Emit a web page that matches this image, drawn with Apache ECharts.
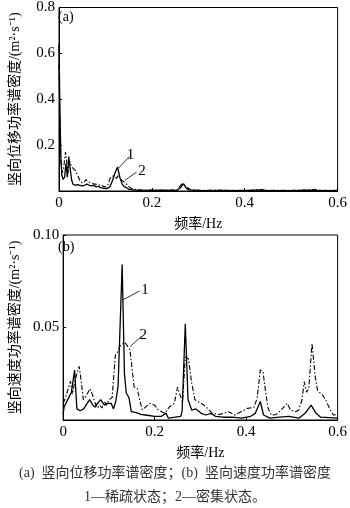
<!DOCTYPE html>
<html>
<head>
<meta charset="utf-8">
<script src="https://cdn.jsdelivr.net/npm/echarts@6/dist/echarts.min.js"></script>
<style>
  html, body { margin: 0; padding: 0; background: #fff; }
  #chart { width: 350px; height: 508px; }
</style>
</head>
<body>
<div id="chart"></div>
<script>
// (a) vertical displacement PSD — frequency (Hz) and value
const dispFreq1 = [0, 0.002, 0.004, 0.006, 0.009, 0.012, 0.015, 0.018, 0.021, 0.024, 0.027, 0.03, 0.035, 0.04, 0.045, 0.05, 0.055, 0.06, 0.065, 0.07, 0.075, 0.08, 0.085, 0.09, 0.095, 0.1, 0.105, 0.11, 0.115, 0.12, 0.126, 0.131, 0.136, 0.14, 0.145, 0.15, 0.16, 0.17, 0.18, 0.2, 0.22, 0.24, 0.255, 0.262, 0.268, 0.274, 0.28, 0.3, 0.33, 0.36, 0.4, 0.43, 0.45, 0.5, 0.54, 0.56, 0.6];
const dispVal1  = [0.64, 0.35, 0.15, 0.07, 0.05, 0.06, 0.12, 0.06, 0.15, 0.1, 0.05, 0.03, 0.025, 0.028, 0.025, 0.022, 0.025, 0.03, 0.025, 0.022, 0.025, 0.018, 0.02, 0.015, 0.012, 0.01, 0.012, 0.02, 0.045, 0.075, 0.105, 0.06, 0.03, 0.02, 0.015, 0.008, 0.005, 0.004, 0.003, 0.003, 0.004, 0.003, 0.004, 0.015, 0.032, 0.012, 0.005, 0.003, 0.002, 0.003, 0.002, 0.005, 0.002, 0.002, 0.004, 0.002, 0.002];
const dispFreq2 = [0, 0.002, 0.004, 0.007, 0.01, 0.014, 0.017, 0.02, 0.023, 0.026, 0.03, 0.035, 0.04, 0.045, 0.05, 0.055, 0.058, 0.063, 0.07, 0.075, 0.08, 0.085, 0.09, 0.095, 0.1, 0.105, 0.11, 0.115, 0.12, 0.124, 0.128, 0.133, 0.14, 0.145, 0.15, 0.155, 0.16, 0.17, 0.18, 0.2, 0.22, 0.24, 0.255, 0.264, 0.27, 0.276, 0.282, 0.29, 0.31, 0.34, 0.37, 0.4, 0.42, 0.435, 0.45, 0.5, 0.53, 0.55, 0.57, 0.6];
const dispVal2  = [0.55, 0.3, 0.12, 0.08, 0.1, 0.17, 0.12, 0.08, 0.13, 0.11, 0.1, 0.09, 0.07, 0.045, 0.035, 0.04, 0.05, 0.04, 0.035, 0.03, 0.03, 0.025, 0.028, 0.02, 0.018, 0.025, 0.055, 0.065, 0.065, 0.055, 0.07, 0.05, 0.04, 0.03, 0.02, 0.012, 0.008, 0.005, 0.004, 0.004, 0.003, 0.004, 0.006, 0.03, 0.025, 0.015, 0.008, 0.004, 0.003, 0.004, 0.002, 0.003, 0.003, 0.006, 0.003, 0.003, 0.004, 0.006, 0.003, 0.003];

// (b) vertical velocity PSD
const velFreq1 = [0, 0.002, 0.01, 0.018, 0.025, 0.03, 0.037, 0.045, 0.05, 0.058, 0.065, 0.07, 0.075, 0.082, 0.09, 0.096, 0.1, 0.105, 0.11, 0.115, 0.12, 0.129, 0.134, 0.138, 0.144, 0.149, 0.16, 0.17, 0.18, 0.2, 0.215, 0.225, 0.23, 0.245, 0.257, 0.26, 0.267, 0.273, 0.281, 0.29, 0.302, 0.312, 0.323, 0.333, 0.35, 0.37, 0.39, 0.41, 0.42, 0.431, 0.438, 0.452, 0.473, 0.494, 0.515, 0.529, 0.542, 0.553, 0.563, 0.6];
const velVal1  = [0.003, 0.007, 0.011, 0.015, 0.027, 0.006, 0.005, 0.006, 0.008, 0.011, 0.008, 0.007, 0.009, 0.011, 0.008, 0.009, 0.01, 0.009, 0.006, 0.01, 0.018, 0.084, 0.025, 0.0146, 0.012, 0.0045, 0.004, 0.003, 0.0027, 0.002, 0.002, 0.0037, 0.001, 0.0015, 0.002, 0.0045, 0.052, 0.011, 0.0054, 0.006, 0.0036, 0.0027, 0.0036, 0.002, 0.0015, 0.0015, 0.001, 0.002, 0.0036, 0.01, 0.0027, 0.001, 0.0015, 0.002, 0.001, 0.0036, 0.008, 0.0036, 0.0015, 0.001];
const velFreq2 = [0, 0.005, 0.01, 0.016, 0.02, 0.025, 0.03, 0.035, 0.04, 0.044, 0.05, 0.059, 0.065, 0.07, 0.075, 0.08, 0.085, 0.09, 0.095, 0.1, 0.107, 0.114, 0.12, 0.124, 0.135, 0.146, 0.152, 0.155, 0.162, 0.168, 0.173, 0.18, 0.19, 0.194, 0.2, 0.208, 0.222, 0.232, 0.243, 0.25, 0.257, 0.261, 0.267, 0.274, 0.281, 0.288, 0.302, 0.312, 0.326, 0.34, 0.35, 0.361, 0.375, 0.389, 0.403, 0.417, 0.424, 0.431, 0.437, 0.441, 0.448, 0.455, 0.466, 0.476, 0.49, 0.497, 0.508, 0.515, 0.522, 0.527, 0.532, 0.537, 0.544, 0.551, 0.556, 0.567, 0.574, 0.584, 0.591, 0.6];
const velVal2  = [0.009, 0.012, 0.016, 0.021, 0.014, 0.02, 0.025, 0.029, 0.02, 0.011, 0.013, 0.017, 0.013, 0.009, 0.0065, 0.008, 0.0065, 0.01, 0.008, 0.011, 0.012, 0.035, 0.037, 0.04, 0.042, 0.038, 0.025, 0.018, 0.017, 0.01, 0.0055, 0.007, 0.009, 0.01, 0.008, 0.0054, 0.0036, 0.007, 0.009, 0.0177, 0.0126, 0.01, 0.034, 0.033, 0.02, 0.011, 0.009, 0.0072, 0.0036, 0.003, 0.0035, 0.0045, 0.0027, 0.0045, 0.0063, 0.0068, 0.0117, 0.027, 0.026, 0.018, 0.0063, 0.0027, 0.003, 0.0054, 0.009, 0.0054, 0.0045, 0.0054, 0.0108, 0.0207, 0.015, 0.017, 0.0415, 0.0234, 0.016, 0.0135, 0.0108, 0.0054, 0.0027, 0.003];

// curve number callouts: leader line start/end in data units
const calloutsA = [
  { text: '1', from: [0.128, 0.099], to: [0.151, 0.15] },
  { text: '2', from: [0.142, 0.047], to: [0.167, 0.082] }
];
const calloutsB = [
  { text: '1', from: [0.131, 0.065], to: [0.167, 0.0697] },
  { text: '2', from: [0.146, 0.0396], to: [0.172, 0.0454] }
];

const xTicks = [0, 0.2, 0.4, 0.6];
const FONT = '"Liberation Serif", "Noto Sans CJK SC", serif';

function pairs(fs, vs) { return fs.map((f, i) => [f, vs[i]]); }

function calloutLines(list) {
  return {
    symbol: 'none',
    silent: true,
    animation: false,
    lineStyle: { color: '#000', width: 0.8, type: 'solid' },
    label: {
      show: true, position: 'end', distance: 2,
      color: '#000', fontFamily: FONT, fontSize: 15,
      formatter: p => p.data.labelText
    },
    data: list.map(c => [
      { coord: c.from, labelText: c.text },
      { coord: c.to, labelText: c.text }
    ])
  };
}

const axisText = { color: '#000', fontFamily: FONT, fontSize: 15 };

function xAxisFor(gi) {
  return {
    type: 'value', gridIndex: gi, min: 0, max: 0.6, interval: 0.2,
    name: '频率/Hz', nameLocation: 'middle', nameGap: 26,
    nameTextStyle: { color: '#000', fontFamily: FONT, fontSize: 14 },
    axisLine: { lineStyle: { color: '#000', width: 1 } },
    axisTick: { inside: true, length: 3, lineStyle: { color: '#000' } },
    axisLabel: Object.assign({ margin: 5, formatter: v => xTicks.includes(+v.toFixed(1)) ? String(+v.toFixed(1)) : '' }, axisText),
    splitLine: { show: false }
  };
}

function yAxisFor(gi, max, interval, name, digits) {
  return {
    type: 'value', gridIndex: gi, min: 0, max: max, interval: interval,
    name: name, nameLocation: 'middle', nameGap: 37, nameRotate: 90,
    nameTextStyle: { color: '#000', fontFamily: FONT, fontSize: 14 },
    axisLine: { show: true, lineStyle: { color: '#000', width: 1 } },
    axisTick: { inside: true, length: 3, lineStyle: { color: '#000' } },
    axisLabel: Object.assign({ margin: 4, showMinLabel: false, formatter: v => v.toFixed(digits) }, axisText),
    splitLine: { show: false }
  };
}

const solidStyle = { color: '#000', width: 1.3, type: 'solid' };
const dashStyle = { color: '#000', width: 1.1, type: [5, 2, 1.5, 2] };

function lineSeries(gi, data, style, callout) {
  const s = {
    type: 'line', xAxisIndex: gi, yAxisIndex: gi, data: data,
    showSymbol: false, symbol: 'none', lineStyle: style, itemStyle: { color: '#000' },
    animation: false, z: 3
  };
  if (callout) s.markLine = callout;
  return s;
}

const chart = echarts.init(document.getElementById('chart'), null, { renderer: 'canvas' });
chart.setOption({
  backgroundColor: '#fff',
  animation: false,
  grid: [
    { left: 54, right: 9, top: 5, height: 186, show: true, borderColor: '#000', borderWidth: 1, backgroundColor: 'transparent' },
    { left: 54, right: 9, top: 235, height: 185, show: true, borderColor: '#000', borderWidth: 1, backgroundColor: 'transparent' }
  ],
  xAxis: [xAxisFor(0), xAxisFor(1)],
  yAxis: [
    yAxisFor(0, 0.8, 0.2, '竖向位移功率谱密度/(m²·s⁻¹)', 1),
    yAxisFor(1, 0.1, 0.05, '竖向速度功率谱密度/(m²·s⁻¹)', 2)
  ],
  series: [
    lineSeries(0, pairs(dispFreq2, dispVal2), dashStyle, null),
    lineSeries(0, pairs(dispFreq1, dispVal1), solidStyle, calloutLines(calloutsA)),
    lineSeries(1, pairs(velFreq2, velVal2), dashStyle, null),
    lineSeries(1, pairs(velFreq1, velVal1), solidStyle, calloutLines(calloutsB))
  ],
  graphic: [
    { type: 'text', left: 58, top: 10, style: { text: '(a)', fill: '#000', font: '14px ' + FONT } },
    { type: 'text', left: 58, top: 240, style: { text: '(b)', fill: '#000', font: '14px ' + FONT } },
    { type: 'text', left: 'center', top: 466, style: { text: '(a)  竖向位移功率谱密度；(b)  竖向速度功率谱密度', fill: '#333', font: '14px ' + FONT } },
    { type: 'text', left: 'center', top: 490, style: { text: '1—稀疏状态；2—密集状态。', fill: '#333', font: '14px ' + FONT } }
  ]
});
</script>
</body>
</html>
